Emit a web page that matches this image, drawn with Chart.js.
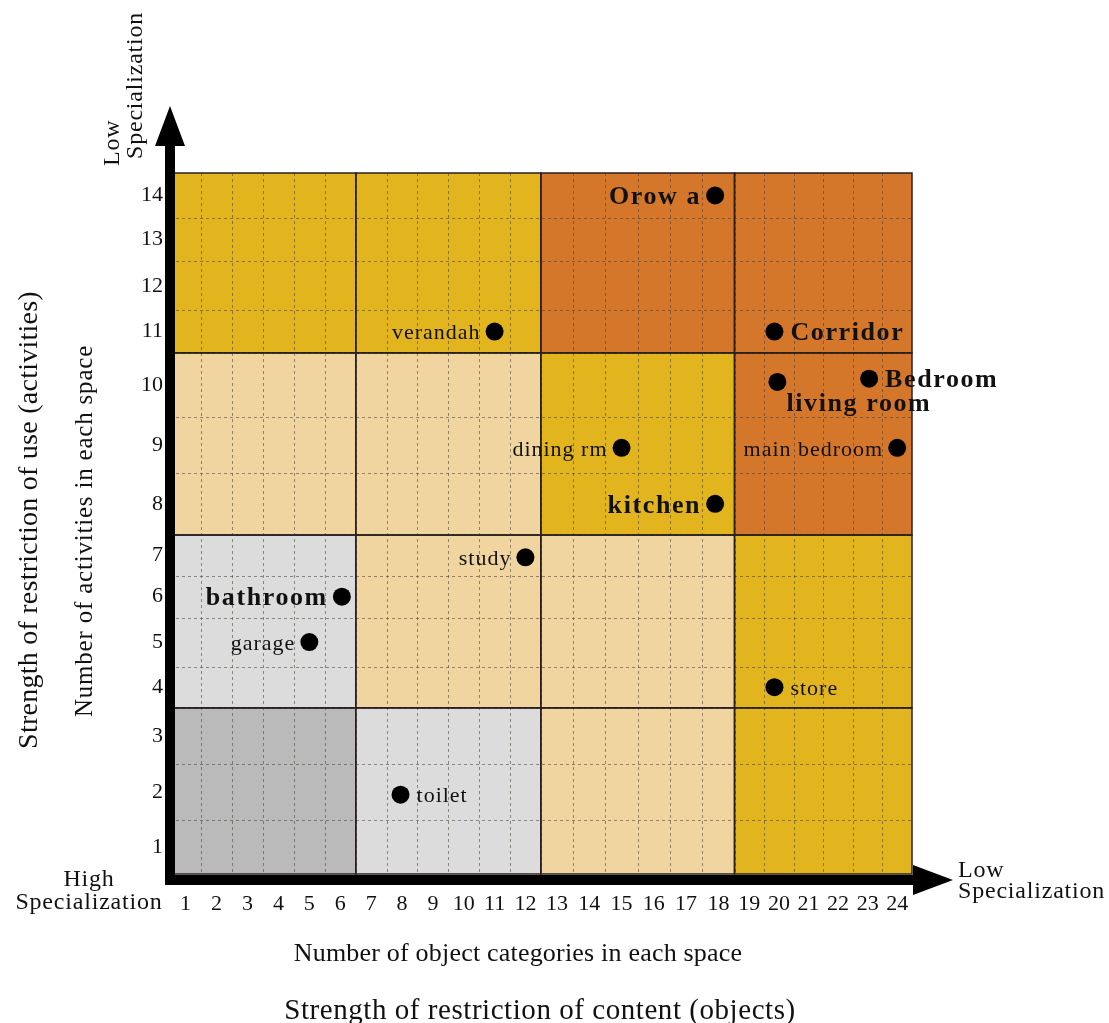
<!DOCTYPE html>
<html>
<head>
<meta charset="utf-8">
<script src="https://cdn.jsdelivr.net/npm/chart.js@4.4.1/dist/chart.umd.min.js"></script>
<style>
  body { margin: 0; background: #fff; }
  #wrap { width: 1109px; height: 1023px; }
</style>
</head>
<body>
<div id="wrap"><canvas id="myChart" width="1109" height="1023"></canvas></div>
<script>
'use strict';

// data
let roomNames = ['Orow a', 'Corridor', 'living room', 'Bedroom', 'main bedroom', 'dining rm',
  'kitchen', 'verandah', 'study', 'bathroom', 'garage', 'store', 'toilet'];
let objectCounts = [17.9, 19.85, 19.95, 23.05, 24.0, 15.0, 17.9, 11.0, 12.0, 6.05, 5.0, 19.85, 7.95];
let activityCounts = [14.0, 11.0, 10.05, 10.1, 8.95, 8.95, 8.0, 11.0, 6.95, 6.0, 5.0, 4.0, 1.95];
let xTickLabels = [1, 2, 3, 4, 5, 6, 7, 8, 9, 10, 11, 12, 13, 14, 15, 16, 17, 18, 19, 20, 21, 22, 23, 24];
let yTickLabels = [1, 2, 3, 4, 5, 6, 7, 8, 9, 10, 11, 12, 13, 14];

// how each room name sits next to its dot
let labelSide = ['left', 'right', 'below', 'right', 'left', 'left', 'left', 'left', 'left', 'left', 'left', 'right', 'right'];
let labelBold = [true, true, true, true, false, false, true, false, false, true, false, false, false];

// zones (axis units) and their colours, bottom row first
let xBands = [0.5, 6.5, 12.5, 18.5, 24.5];
let yBands = [0.5, 3.5, 7.5, 10.5, 14.5];
const GOLD = '#e2b51f';
const ORANGE = '#d4772a';
const BEIGE = '#f0d5a1';
const LGREY = '#dcdcdc';
const DGREY = '#bababa';
let zoneColours = [
  [DGREY, LGREY, BEIGE, GOLD],
  [LGREY, BEIGE, BEIGE, GOLD],
  [BEIGE, BEIGE, GOLD, ORANGE],
  [GOLD, GOLD, ORANGE, ORANGE]
];

// the drawing's rows/columns are not all the same size, so the axes are piecewise
let xEdgeValues = [0.5, 6.5, 12.5, 18.5, 24.5];
let xEdgeFracs = [0, 0.2504, 0.4998, 0.7608, 1];
let yEdgeValues = [0.5, 1.5, 2.5, 3.5, 4.5, 5.5, 6.5, 7.5, 8.5, 9.5, 10.5, 11.5, 12.5, 13.5, 14.5];
let yEdgeFracs = [0, 0.0774, 0.1568, 0.2370, 0.2959, 0.3657, 0.4256, 0.4836, 0.5724, 0.6514,
  0.7434, 0.8043, 0.8741, 0.9359, 1];

const SERIF = "'Liberation Serif', 'Times New Roman', serif";

function mapPiecewise(v, from, to) {
  let n = from.length;
  let i = 0;
  while (i < n - 2 && v > from[i + 1]) {
    i++;
  }
  let t = (v - from[i]) / (from[i + 1] - from[i]);
  return to[i] + t * (to[i + 1] - to[i]);
}

class PiecewiseScale extends Chart.LinearScale {
  edges() {
    return this.axis === 'x' ? [xEdgeValues, xEdgeFracs] : [yEdgeValues, yEdgeFracs];
  }
  getPixelForValue(value) {
    let e = this.edges();
    return this.getPixelForDecimal(mapPiecewise(value, e[0], e[1]));
  }
  getValueForPixel(pixel) {
    let e = this.edges();
    return mapPiecewise(this.getDecimalForPixel(pixel), e[1], e[0]);
  }
}
PiecewiseScale.id = 'piecewise';
PiecewiseScale.defaults = Chart.LinearScale.defaults;
Chart.register(PiecewiseScale);

// coloured zones, dotted cell grid, zone borders and the two arrow axes
let zonePlugin = {
  id: 'zones',
  beforeDatasetsDraw(chart) {
    let ctx = chart.ctx;
    let area = chart.chartArea;
    let x = chart.scales.x;
    let y = chart.scales.y;
    ctx.save();

    for (let r = 0; r < 4; r++) {
      for (let c = 0; c < 4; c++) {
        let x0 = x.getPixelForValue(xBands[c]);
        let x1 = x.getPixelForValue(xBands[c + 1]);
        let y0 = y.getPixelForValue(yBands[r + 1]);
        let y1 = y.getPixelForValue(yBands[r]);
        ctx.fillStyle = zoneColours[r][c];
        ctx.fillRect(x0, y0, x1 - x0, y1 - y0);
      }
    }

    ctx.setLineDash([3, 3]);
    ctx.strokeStyle = 'rgba(70, 60, 50, 0.55)';
    ctx.lineWidth = 1;
    for (let i = 0; i < xTickLabels.length - 1; i++) {
      let px = Math.round(x.getPixelForValue(xTickLabels[i] + 0.5)) + 0.5;
      ctx.beginPath();
      ctx.moveTo(px, area.top);
      ctx.lineTo(px, area.bottom);
      ctx.stroke();
    }
    for (let i = 0; i < yTickLabels.length - 1; i++) {
      let py = Math.round(y.getPixelForValue(yTickLabels[i] + 0.5)) + 0.5;
      ctx.beginPath();
      ctx.moveTo(area.left, py);
      ctx.lineTo(area.right, py);
      ctx.stroke();
    }

    ctx.setLineDash([]);
    ctx.strokeStyle = '#2a2020';
    ctx.lineWidth = 1.5;
    for (let r = 0; r < 4; r++) {
      for (let c = 0; c < 4; c++) {
        let x0 = x.getPixelForValue(xBands[c]);
        let x1 = x.getPixelForValue(xBands[c + 1]);
        let y0 = y.getPixelForValue(yBands[r + 1]);
        let y1 = y.getPixelForValue(yBands[r]);
        ctx.strokeRect(x0, y0, x1 - x0, y1 - y0);
      }
    }

    // thick axes with arrow heads
    let L = area.left;
    let B = area.bottom + 6;
    ctx.fillStyle = '#000';
    ctx.fillRect(L - 5, area.top - 30, 10, B + 5 - (area.top - 30));
    ctx.beginPath();
    ctx.moveTo(L, area.top - 67);
    ctx.lineTo(L - 15, area.top - 27);
    ctx.lineTo(L + 15, area.top - 27);
    ctx.closePath();
    ctx.fill();
    ctx.fillRect(L - 5, B - 5, area.right + 4 - (L - 5), 10);
    ctx.beginPath();
    ctx.moveTo(area.right + 41, B);
    ctx.lineTo(area.right + 1, B - 15);
    ctx.lineTo(area.right + 1, B + 15);
    ctx.closePath();
    ctx.fill();
    ctx.restore();
  }
};

// room names next to the dots
let roomLabelPlugin = {
  id: 'roomLabels',
  afterDatasetsDraw(chart) {
    let ctx = chart.ctx;
    let meta = chart.getDatasetMeta(0);
    ctx.save();
    ctx.fillStyle = '#111';
    ctx.textBaseline = 'middle';
    meta.data.forEach(function (pt, i) {
      ctx.font = labelBold[i] ? 'bold 26px ' + SERIF : '22px ' + SERIF;
      ctx.letterSpacing = labelBold[i] ? '1.6px' : '1px';
      let side = labelSide[i];
      if (side === 'left') {
        ctx.textAlign = 'right';
        ctx.fillText(roomNames[i], pt.x - 14, pt.y + 2);
      } else if (side === 'right') {
        ctx.textAlign = 'left';
        ctx.fillText(roomNames[i], pt.x + 16, pt.y + 2);
      } else {
        ctx.textAlign = 'left';
        ctx.fillText(roomNames[i], pt.x + 9, pt.y + 22);
      }
    });
    ctx.restore();
  }
};

function rotatedText(ctx, text, x, y, align) {
  ctx.save();
  ctx.translate(x, y);
  ctx.rotate(-Math.PI / 2);
  ctx.textAlign = align;
  ctx.fillText(text, 0, 0);
  ctx.restore();
}

// axis titles and the specialization notes at the arrow ends
let titlePlugin = {
  id: 'titles',
  afterDraw(chart) {
    let ctx = chart.ctx;
    ctx.save();
    ctx.fillStyle = '#111';
    ctx.textAlign = 'center';

    ctx.textBaseline = 'alphabetic';
    ctx.font = '26px ' + SERIF;
    ctx.letterSpacing = '0.2px';
    ctx.fillText('Number of object categories in each space', 518, 961);
    ctx.font = '29px ' + SERIF;
    ctx.letterSpacing = '0.55px';
    ctx.fillText('Strength of restriction of content (objects)', 540, 1019);

    ctx.textBaseline = 'middle';
    ctx.font = '24px ' + SERIF;
    ctx.letterSpacing = '0.8px';
    ctx.fillText('High', 89, 880);
    ctx.fillText('Specialization', 89, 903);
    ctx.textAlign = 'left';
    ctx.fillText('Low', 958, 871);
    ctx.fillText('Specialization', 958, 892);
    rotatedText(ctx, 'Low', 113, 166, 'left');
    rotatedText(ctx, 'Specialization', 136, 159, 'left');

    ctx.font = '28px ' + SERIF;
    ctx.letterSpacing = '0.25px';
    rotatedText(ctx, 'Strength of restriction of use (activities)', 30, 520, 'center');
    ctx.font = '25px ' + SERIF;
    ctx.letterSpacing = '0.8px';
    rotatedText(ctx, 'Number of activities in each space', 85, 531, 'center');
    ctx.restore();
  }
};

let tickFont = { family: SERIF, size: 22 };

let ctx = document.getElementById('myChart').getContext('2d');
let myChart = new Chart(ctx, {
  type: 'scatter',
  data: {
    datasets: [{
      data: objectCounts.map((v, i) => ({ x: v, y: activityCounts[i] })),
      backgroundColor: '#000',
      borderWidth: 0,
      pointRadius: 9,
      pointHoverRadius: 9
    }]
  },
  options: {
    responsive: false,
    animation: false,
    devicePixelRatio: 1,
    layout: {
      padding: { left: 110, top: 173, right: 197, bottom: 89 }
    },
    plugins: {
      legend: { display: false },
      tooltip: { enabled: false }
    },
    scales: {
      x: {
        type: 'piecewise',
        min: 0.5,
        max: 24.5,
        afterBuildTicks: s => { s.ticks = xTickLabels.map(v => ({ value: v })); },
        afterFit: s => { s.height = 60; },
        grid: { display: false, drawTicks: false },
        border: { display: false },
        ticks: {
          autoSkip: false,
          maxRotation: 0,
          padding: 17,
          color: '#111',
          font: tickFont,
          callback: v => String(v)
        }
      },
      y: {
        type: 'piecewise',
        min: 0.5,
        max: 14.5,
        afterBuildTicks: s => { s.ticks = yTickLabels.map(v => ({ value: v })); },
        afterFit: s => { s.width = 60; },
        grid: { display: false, drawTicks: false },
        border: { display: false },
        ticks: {
          autoSkip: false,
          padding: 7,
          color: '#111',
          font: tickFont,
          callback: v => String(v)
        }
      }
    }
  },
  plugins: [zonePlugin, roomLabelPlugin, titlePlugin]
});
</script>
</body>
</html>
